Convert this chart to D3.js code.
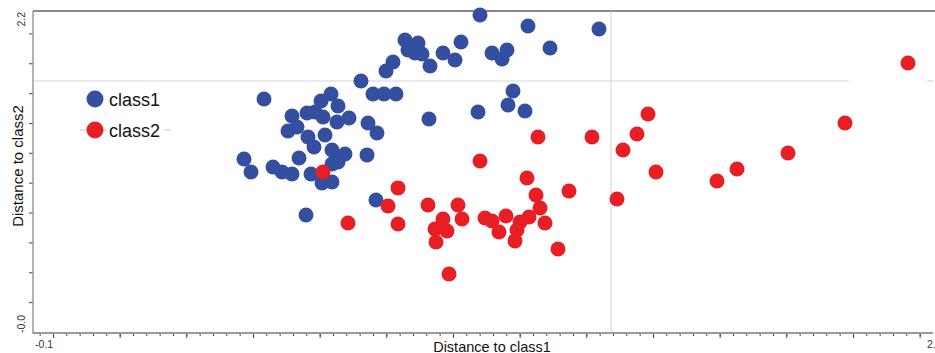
<!DOCTYPE html>
<html>
<head>
<meta charset="utf-8">
<script src="https://cdn.jsdelivr.net/npm/d3@7"></script>
<style>
	body { margin: 0; background: #fff; }
	svg { display: block; font-family: 'Liberation Sans', Arial, sans-serif; }
</style>
</head>
<body>
<svg width="935" height="353"></svg>
<script>
// distance plot: class1 vs class2

// points, [distance to class1, distance to class2]
var class1 = [
	[1.241,2.123],[1.385,2.050],[1.598,2.029],[1.451,1.902],[1.016,1.956],[1.037,1.909],
	[1.055,1.936],[1.046,1.869],[1.067,1.862],[1.025,1.889],[1.130,1.869],[1.166,1.822],
	[1.091,1.782],[1.184,1.942],[1.277,1.869],[1.307,1.829],[1.322,1.889],[0.980,1.808],
	[0.959,1.748],[0.884,1.681],[0.920,1.594],[0.953,1.594],[0.989,1.594],[1.340,1.614],
	[1.325,1.520],[1.376,1.480],[1.235,1.474],[1.088,1.427],[0.593,1.561],[0.794,1.594],
	[0.764,1.547],[0.815,1.514],[0.677,1.447],[0.722,1.467],[0.746,1.474],[0.770,1.440],
	[0.812,1.407],[0.848,1.433],[0.665,1.346],[0.692,1.373],[0.725,1.306],[0.743,1.239],
	[0.776,1.319],[0.905,1.400],[0.932,1.333],[0.533,1.159],[0.554,1.072],[0.620,1.105],
	[0.647,1.072],[0.677,1.058],[0.698,1.165],[0.734,1.058],[0.797,1.219],[0.836,1.192],
	[0.815,1.139],[0.797,1.125],[0.767,0.998],[0.797,1.005],[0.902,1.186],[0.929,0.884],
	[0.719,0.784]
]
var class2 = [
	[0.770,1.072],[1.241,1.145],[1.415,1.306],[1.577,1.306],[1.670,1.219],[1.382,1.031],
	[1.508,0.944],[1.652,0.891],[0.995,0.965],[0.965,0.844],[0.845,0.730],[0.995,0.723],
	[1.085,0.851],[1.175,0.851],[1.130,0.757],[1.187,0.757],[1.106,0.690],[1.142,0.676],
	[1.109,0.603],[1.256,0.764],[1.277,0.743],[1.319,0.777],[1.298,0.670],[1.361,0.737],
	[1.388,0.770],[1.352,0.683],[1.346,0.610],[1.409,0.918],[1.421,0.831],[1.436,0.730],
	[1.475,0.556],[1.148,0.388],[1.712,1.326],[1.745,1.460],[1.769,1.072],[1.952,1.011],
	[2.012,1.092],[2.165,1.199],[2.336,1.400],[2.525,1.802]
]

var seriesNames = ['class1', 'class2']
var seriesColors = ['#344ea0', '#e81e25']

// class thresholds
var xThreshold = 1.634
var yThreshold = 1.681

var xDomain = [-0.1, 2.6]
var yDomain = [0, 2.15]
var xEndLabels = ['-0.1', '2.6']
var yEndLabels = ['-0.0', '2.2']
var xMinorTicks = d3.range(-0.08, 2.58, 0.04)
var xMajorTicks = d3.range(-0.04, 2.58, 0.2)
var yTicks = d3.range(0.2, 2.1, 0.2)

const margin = {top: 11, right: 2, bottom: 21, left: 33}
var W = 935, H = 353

var x = d3.scaleLinear().domain(xDomain).range([margin.left, W - margin.right])
var y = d3.scaleLinear().domain(yDomain).range([H - margin.bottom, margin.top])

var svg = d3.select('svg')

// frame
svg.append('line')
	.attr('x1', x(xDomain[0])).attr('x2', W)
	.attr('y1', y(yDomain[1])).attr('y2', y(yDomain[1]))
	.attr('stroke', '#8a8a8a').attr('stroke-width', 2)

// threshold lines (the horizontal one is broken near the right edge)
svg.append('line')
	.attr('x1', x(xThreshold)).attr('x2', x(xThreshold))
	.attr('y1', y(yDomain[1])).attr('y2', y(yDomain[0]))
	.attr('stroke', '#d4d4d4').attr('stroke-width', 1)
svg.selectAll('line.hthr').data([[xDomain[0], 2.347], [2.583, xDomain[1]]])
	.enter().append('line').attr('class', 'hthr')
	.attr('x1', function(d) { return x(d[0]) })
	.attr('x2', function(d) { return x(d[1]) })
	.attr('y1', y(yThreshold)).attr('y2', y(yThreshold))
	.attr('stroke', '#d4d4d4').attr('stroke-width', 1.2)

// axes
svg.append('g')
	.attr('transform', 'translate(0,' + (y(yDomain[0]) + 1) + ')')
	.call(d3.axisBottom(x).tickValues(xMinorTicks).tickSize(3).tickFormat(''))
	.call(function(g) { g.select('.domain').remove() })
	.selectAll('line').attr('stroke', '#444')
svg.append('g')
	.attr('transform', 'translate(0,' + (y(yDomain[0]) + 1) + ')')
	.call(d3.axisBottom(x).tickValues(xMajorTicks).tickSize(5).tickFormat(''))
	.call(function(g) { g.select('.domain').remove() })
	.selectAll('line').attr('stroke', '#444')
svg.append('g')
	.attr('transform', 'translate(' + x(xDomain[0]) + ',0)')
	.call(d3.axisLeft(y).tickValues(yTicks).tickSize(4).tickFormat(''))
	.call(function(g) { g.select('.domain').remove() })
	.selectAll('line').attr('stroke', '#444')

svg.append('line')
	.attr('x1', x(xDomain[0])).attr('x2', x(xDomain[1]))
	.attr('y1', y(yDomain[0]) + 1).attr('y2', y(yDomain[0]) + 1)
	.attr('stroke', '#9a9a9a').attr('stroke-width', 2)
svg.append('line')
	.attr('x1', x(xDomain[0])).attr('x2', x(xDomain[0]))
	.attr('y1', y(yDomain[1])).attr('y2', y(yDomain[0]) + 2)
	.attr('stroke', '#9a9a9a').attr('stroke-width', 1.5)

// end labels
svg.append('text').text(xEndLabels[0])
	.attr('x', x(xDomain[0]) + 2).attr('y', 347.5)
	.attr('font-size', 10.5).attr('fill', '#333')
svg.append('text').text(xEndLabels[1])
	.attr('x', x(xDomain[1]) - 6).attr('y', 347.5)
	.attr('font-size', 10.5).attr('fill', '#333')
svg.append('text').text(yEndLabels[0])
	.attr('transform', 'translate(25,' + (y(yDomain[0]) + 1) + ') rotate(-90)')
	.attr('font-size', 10.5).attr('fill', '#333')
svg.append('text').text(yEndLabels[1])
	.attr('transform', 'translate(25,' + (y(yDomain[1]) + 1) + ') rotate(-90)')
	.attr('text-anchor', 'end')
	.attr('font-size', 10.5).attr('fill', '#333')

// axis titles
svg.append('text').text('Distance to class1')
	.attr('x', 492).attr('y', 351.5)
	.attr('text-anchor', 'middle')
	.attr('font-size', 14.5).attr('fill', '#111')
svg.append('text').text('Distance to class2')
	.attr('transform', 'translate(23,166) rotate(-90)')
	.attr('text-anchor', 'middle')
	.attr('font-size', 15).attr('fill', '#111')

// points
var series = [class1, class2]
series.forEach(function(data, i) {
	svg.append('g').selectAll('circle').data(data)
		.enter().append('circle')
		.attr('cx', function(d) { return x(d[0]) })
		.attr('cy', function(d) { return y(d[1]) })
		.attr('r', 7.5)
		.attr('fill', seriesColors[i])
})

// legend
var legend = svg.append('g').attr('transform', 'translate(95,99)')
legend.append('line')
	.attr('x1', -15).attr('x2', 75).attr('y1', 31).attr('y2', 31)
	.attr('stroke', '#c8c8c8')
var items = legend.selectAll('g.item').data(seriesNames)
	.enter().append('g').attr('class', 'item')
	.attr('transform', function(d, i) { return 'translate(0,' + (i * 31) + ')' })
items.append('rect')
	.attr('x', 12).attr('y', -12).attr('width', 57).attr('height', 22)
	.attr('fill', '#fff')
items.append('circle')
	.attr('r', 8.5)
	.attr('fill', function(d, i) { return seriesColors[i] })
items.append('text').text(function(d) { return d })
	.attr('x', 14).attr('y', 6.5)
	.attr('font-size', 18).attr('fill', '#111')
</script>
</body>
</html>
